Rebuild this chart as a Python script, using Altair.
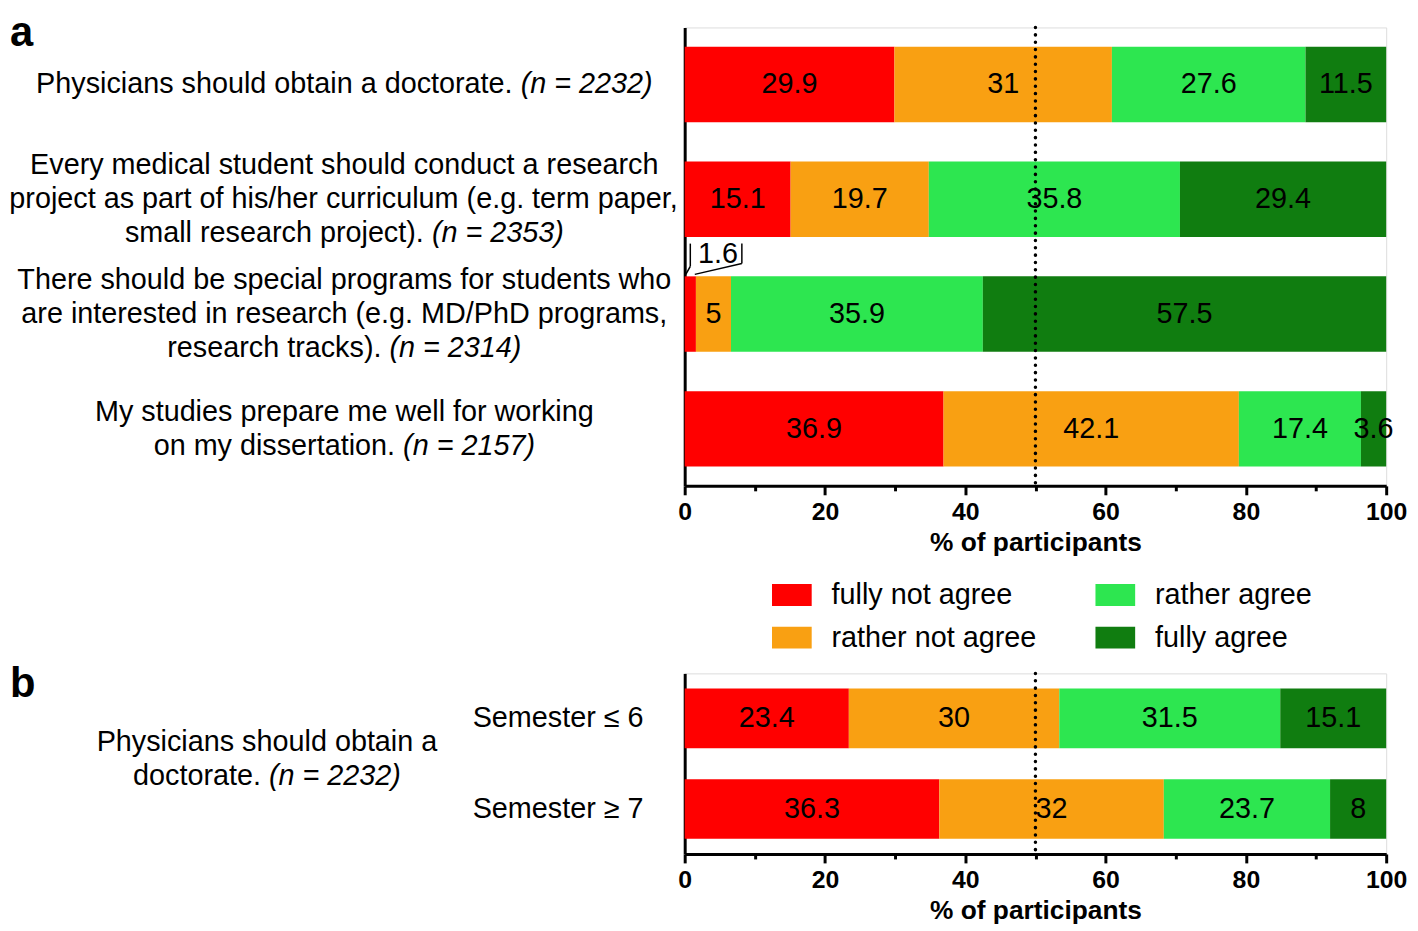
import altair as alt
import pandas as pd

FONT = "Liberation Sans"

# ---------------- data ----------------
categories = ["fully not agree", "rather not agree", "rather agree", "fully agree"]
colors = ["#FF0000", "#F9A012", "#2DE650", "#107D10"]

questions_a = ["doctorate", "research project", "special programs", "studies prepare"]
question_lines_a = [
    [("Physicians should obtain a doctorate. ", "(n = 2232)")],
    [("Every medical student should conduct a research", ""),
     ("project as part of his/her curriculum (e.g. term paper,", ""),
     ("small research project). ", "(n = 2353)")],
    [("There should be special programs for students who", ""),
     ("are interested in research (e.g. MD/PhD programs,", ""),
     ("research tracks). ", "(n = 2314)")],
    [("My studies prepare me well for working", ""),
     ("on my dissertation. ", "(n = 2157)")],
]
fully_not_agree_a = [29.9, 15.1, 1.6, 36.9]
rather_not_agree_a = [31, 19.7, 5, 42.1]
rather_agree_a = [27.6, 35.8, 35.9, 17.4]
fully_agree_a = [11.5, 29.4, 57.5, 3.6]

groups_b = ["Semester ≤ 6", "Semester ≥ 7"]
question_lines_b = [("Physicians should obtain a", ""), ("doctorate. ", "(n = 2232)")]
fully_not_agree_b = [23.4, 36.3]
rather_not_agree_b = [30, 32]
rather_agree_b = [31.5, 23.7]
fully_agree_b = [15.1, 8]

axis_major = [0, 20, 40, 60, 80, 100]
axis_all = [0, 10, 20, 30, 40, 50, 60, 70, 80, 90, 100]
reference_line = [50]

# ---------------- layout ----------------
W = 707
H_A = 462
H_B = 182
PAD_IN = 0.343
PAD_OUT = 0.168
PX = W / 100.0
FS = 29
LINE_H = 34.5
C_A = -343
C_B = -421

_w = {}
for chs, v in [("ijl", 222), (" !,./:;It[]f", 278), ("()-r", 333), ("cksvxyzJ", 500),
               ("abdeghnopqu0123456789L", 556), ("=≤≥", 584), ("FTZ", 611),
               ("ABEKPSVXY", 667), ("CDHNRUw", 722), ("GOQ", 778), ("mM", 833),
               ("W", 944), ("%", 889)]:
    for c in chs:
        _w[c] = v


def tw(s, size=FS):
    return sum(_w.get(c, 556) for c in s) / 1000.0 * size


def fmt(v):
    return str(int(v)) if float(v).is_integer() else f"{v:g}"


def long_df(keys, series):
    rows = []
    for i, k in enumerate(keys):
        start = 0.0
        for j, cat in enumerate(categories):
            v = series[j][i]
            rows.append(dict(key=k, response=cat, rank=j, value=v, start=start,
                             end=start + v, mid=start + v / 2, label=fmt(v)))
            start += v
    return pd.DataFrame(rows)


df_a = long_df(questions_a, [fully_not_agree_a, rather_not_agree_a, rather_agree_a, fully_agree_a])
df_b = long_df(groups_b, [fully_not_agree_b, rather_not_agree_b, rather_agree_b, fully_agree_b])

XSCALE = alt.Scale(domain=[0, 100], nice=False, zero=False)
XAXIS = alt.Axis(
    values=axis_all,
    labelExpr="indexof(" + str(axis_major) + ", datum.value) >= 0 ? datum.label : ''",
    tickSize={"condition": {"test": "indexof(" + str(axis_major) + ", datum.value) < 0", "value": 5}, "value": 9},
    tickWidth=3, tickColor="black", domainColor="black", domainWidth=3,
    labelFont=FONT, labelFontSize=25, labelFontWeight="bold", labelColor="black",
    labelPadding=5, labelFlush=False, labelOverlap=False, grid=False,
    title="% of participants", titleFont=FONT, titleFontSize=26.5, titleFontWeight="bold",
    titleColor="black", titlePadding=5,
)


def xq(field):
    return alt.X(field, type="quantitative", scale=XSCALE, axis=XAXIS)


YSCALE = alt.Scale(paddingInner=PAD_IN, paddingOuter=PAD_OUT)
YA = alt.Y("key:N", sort=questions_a, scale=YSCALE,
           axis=alt.Axis(labels=False, ticks=False, title=None, domainColor="black",
                         domainWidth=3, grid=False))
YB = alt.Y("key:N", sort=groups_b, scale=YSCALE,
           axis=alt.Axis(ticks=False, title=None, domainColor="black", domainWidth=3, grid=False,
                         labelFont=FONT, labelFontSize=FS, labelColor="black", labelPadding=42,
                         labelLimit=500))


def bars(df, y, legend):
    return alt.Chart(df).mark_bar(opacity=1).encode(
        x=xq("start"), x2="end:Q", y=y,
        color=alt.Color("response:N", scale=alt.Scale(domain=categories, range=colors),
                        legend=legend),
    )


def value_text(df, y):
    return alt.Chart(df).transform_filter("datum.value >= 3").mark_text(
        align="center", baseline="middle", font=FONT, fontSize=FS, color="black"
    ).encode(x=xq("mid"), y=y, text="label:N")


def dotted(y):
    return alt.Chart(pd.DataFrame({"v": reference_line})).mark_rule(
        color="black", strokeDash=[0.1, 7.3], strokeCap="round", strokeWidth=3.5
    ).encode(x=xq("v"))


def letter(t, ypx):
    return alt.Chart(pd.DataFrame({"t": [t]})).mark_text(
        align="left", baseline="alphabetic", font=FONT, fontSize=42, fontWeight="bold", color="black"
    ).encode(x=alt.value(-680), y=alt.value(ypx), text="t:N")


# question labels for panel a (text marks, regular + italic pieces)
rows = []
for q, lines in zip(questions_a, question_lines_a):
    n = len(lines)
    for k, (reg, ita) in enumerate(lines):
        dy = (k - (n - 1) / 2) * LINE_H
        x0 = C_A - (tw(reg) + tw(ita)) / 2
        rows.append(dict(key=q, t=reg, xu=x0 / PX, dy=dy, style="normal"))
        if ita:
            rows.append(dict(key=q, t=ita, xu=(x0 + tw(reg)) / PX, dy=dy, style="italic"))
lab_a = pd.DataFrame(rows)
label_layers_a = []
for (dy, style), sub in lab_a.groupby(["dy", "style"]):
    label_layers_a.append(
        alt.Chart(sub).mark_text(align="left", baseline="middle", dy=float(dy), font=FONT,
                                 fontSize=FS, fontStyle=style, color="black")
        .encode(x=xq("xu"), y=YA, text="t:N")
    )

# question label for panel b
label_layers_b = []
yc = H_B / 2 - 5
nb = len(question_lines_b)
for k, (reg, ita) in enumerate(question_lines_b):
    ypx = yc + (k - (nb - 1) / 2) * LINE_H
    x0 = C_B - (tw(reg) + tw(ita)) / 2
    pieces = [(reg, x0, "normal")]
    if ita:
        pieces.append((ita, x0 + tw(reg), "italic"))
    for t, xp, style in pieces:
        label_layers_b.append(
            alt.Chart(pd.DataFrame({"t": [t], "xu": [xp / PX]})).mark_text(
                align="left", baseline="middle", font=FONT, fontSize=FS, fontStyle=style, color="black"
            ).encode(x=xq("xu"), y=alt.value(ypx), text="t:N")
        )

# call-out for the small segment (value < 3)
step_a = H_A / (len(questions_a) - PAD_IN + 2 * PAD_OUT)
small = df_a[df_a["value"] < 3].iloc[0]
bar_top = PAD_OUT * step_a + questions_a.index(small["key"]) * step_a
seg_end = small["end"]
seg_mid = small["mid"]
right_x = seg_end + (tw(small["label"]) + 6) / PX
callout_text = alt.Chart(pd.DataFrame({"x": [seg_end], "t": [small["label"]]})).mark_text(
    align="left", baseline="middle", dx=2, font=FONT, fontSize=FS, color="black"
).encode(x=xq("x"), y=alt.value(bar_top - 22), text="t:N")
segs = [
    (seg_mid, seg_mid, bar_top - 33, bar_top - 10),
    (seg_mid, small["start"] + 0.1 * small["value"], bar_top - 10, bar_top - 2),
    (right_x, right_x, bar_top - 33, bar_top - 13),
    (right_x, small["start"] + 0.9 * small["value"], bar_top - 13, bar_top - 2),
]
callout_rules = [
    alt.Chart(pd.DataFrame({"x1": [a], "x2": [b]})).mark_rule(color="black", strokeWidth=1.5)
    .encode(x=xq("x1"), x2="x2:Q", y=alt.value(y1), y2=alt.value(y2))
    for a, b, y1, y2 in segs
]

legend_a = alt.Legend(
    title=None, orient="none", legendX=88, legendY=552, columns=2,
    symbolType="M-1,-0.55L1,-0.55L1,0.55L-1,0.55Z", symbolSize=1600, symbolStrokeWidth=0,
    symbolOpacity=1, labelFont=FONT, labelFontSize=FS, labelColor="black", labelOffset=20,
    columnPadding=59, rowPadding=8, padding=0, labelLimit=500,
)

panel_a = alt.layer(
    bars(df_a, YA, legend_a), dotted(YA), value_text(df_a, YA), *label_layers_a,
    callout_text, *callout_rules, letter("a", 19)
).properties(width=W, height=H_A)

panel_b = alt.layer(
    bars(df_b, YB, None), dotted(YB), value_text(df_b, YB), *label_layers_b, letter("b", 24)
).properties(width=W, height=H_B)

chart = alt.vconcat(panel_a, panel_b, spacing=9).resolve_scale(
    x="independent", y="independent", color="independent"
).resolve_legend(color="independent").properties(
    padding={"left": 0, "top": 0, "right": 2, "bottom": 0}
).configure_view(stroke=None).configure(font=FONT)

chart.save("out.html", embed_options={"renderer": "svg", "actions": False})
